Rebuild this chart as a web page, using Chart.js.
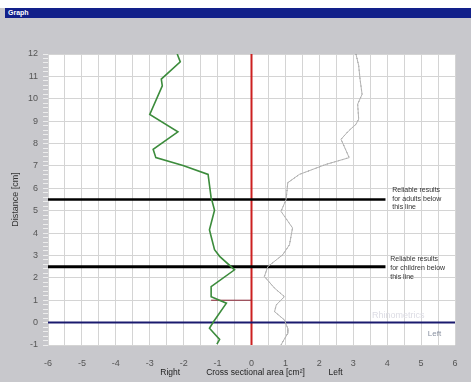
<!DOCTYPE html>
<html>
<head>
<meta charset="utf-8">
<script src="https://cdn.jsdelivr.net/npm/chart.js@4/dist/chart.umd.min.js"></script>
<style>
  html, body { margin: 0; padding: 0; background: #ffffff; }
  #win { position: absolute; left: 0; top: 0; width: 471px; height: 382px; overflow: hidden; }
  #frame { position: absolute; left: 0; top: 8px; width: 471px; height: 374px; background: #c8c8cc; }
  #bar { position: absolute; left: 5px; top: 8px; width: 466px; height: 10px; background: #12208a;
         color: #ffffff; font: bold 7px "Liberation Sans", Arial, sans-serif; line-height: 10px;
         padding-left: 3px; box-sizing: border-box; }
  canvas { position: absolute; left: 0; top: 0; }
</style>
</head>
<body>
<div id="win">
  <div id="frame"></div>
  <div id="bar">Graph</div>
  <canvas id="c" width="471" height="382"></canvas>
</div>
<script>
// Tick labels
const xTickLabels = [-6, -5, -4, -3, -2, -1, 0, 1, 2, 3, 4, 5, 6];
const yTickLabels = [-1, 0, 1, 2, 3, 4, 5, 6, 7, 8, 9, 10, 11, 12];

// Right side (drawn to negative area), cross sectional area [cm²] vs distance [cm]
const rightArea     = [-2.19, -2.10, -2.66, -2.63, -3.00, -2.17, -2.90, -2.82, -2.02, -1.28, -1.19, -1.16, -1.09, -1.24, -1.19, -1.09, -0.94, -0.50, -1.19, -1.19, -0.74, -1.12, -1.24, -0.94, -1.02];
const rightDistance = [12.00, 11.65, 10.88, 10.58, 9.30, 8.52, 7.74, 7.37, 7.02, 6.62, 5.57, 5.42, 5.02, 4.15, 3.85, 3.26, 2.96, 2.36, 1.61, 1.16, 0.87, 0.04, -0.25, -0.75, -0.96];

// Left side
const leftArea     = [3.08, 3.16, 3.20, 3.26, 3.13, 3.16, 3.08, 2.86, 2.64, 2.88, 2.20, 1.41, 1.07, 1.02, 0.87, 1.21, 1.12, 0.92, 0.48, 0.38, 0.68, 0.97, 0.73, 0.68, 0.97, 1.07, 1.07, 0.92, 0.87];
const leftDistance = [12.00, 11.48, 10.88, 10.20, 9.76, 9.09, 8.86, 8.56, 8.19, 7.37, 7.07, 6.62, 6.25, 5.50, 4.97, 4.23, 3.48, 3.03, 2.50, 2.06, 1.54, 1.16, 0.79, 0.49, 0.12, -0.26, -0.48, -0.86, -1.00];

// Reference lines
const adultLimit = 5.5;
const childLimit = 2.5;
const noseEntry = 0;
const limitLineEnd = 3.95;
const markerDistance = 1.0;
const markerArea = -1.19;

const pts = (xs, ys) => xs.map((x, i) => ({ x: x, y: ys[i] }));
const isInt = v => Math.abs(v - Math.round(v)) < 1e-6;
const fontFamily = '"Liberation Sans", Arial, sans-serif';

const plotBg = {
  id: 'plotBg',
  beforeDraw(chart) {
    const { ctx, chartArea: a } = chart;
    ctx.save();
    ctx.fillStyle = '#ffffff';
    ctx.fillRect(a.left, a.top, a.right - a.left, a.bottom - a.top);
    ctx.restore();
  }
};

const notes = {
  id: 'notes',
  afterDatasetsDraw(chart) {
    const { ctx, scales: { x, y } } = chart;
    ctx.save();
    ctx.textBaseline = 'middle';
    ctx.textAlign = 'left';
    ctx.fillStyle = '#333333';
    ctx.font = '7px ' + fontFamily;
    const xl = x.getPixelForValue(4.15);
    const ya = y.getPixelForValue(adultLimit);
    ['Reliable results', 'for adults below', 'this line'].forEach((t, i) => ctx.fillText(t, xl, ya - 9 + i * 8.5));
    const yc = y.getPixelForValue(childLimit);
    ['Reliable results', 'for children below', 'this line'].forEach((t, i) => ctx.fillText(t, xl - 2, yc - 8 + i * 9));
    ctx.fillStyle = '#dcdce4';
    ctx.font = '9px ' + fontFamily;
    ctx.fillText('Rhinometrics', x.getPixelForValue(3.55), y.getPixelForValue(0.3));
    ctx.fillStyle = '#8890a0';
    ctx.font = '8px ' + fontFamily;
    ctx.fillText('Left', x.getPixelForValue(5.2), y.getPixelForValue(-0.5));
    ctx.restore();
  }
};

new Chart(document.getElementById('c'), {
  type: 'scatter',
  data: {
    datasets: [
      { data: pts(rightArea, rightDistance), borderColor: '#3c8c3c', borderWidth: 1.6 },
      { data: pts(leftArea, leftDistance), borderColor: '#b4b4b4', borderWidth: 1 },
      { data: pts(leftArea, leftDistance), borderColor: '#707070', borderWidth: 1, borderDash: [1, 3] },
      { data: [{ x: markerArea, y: markerDistance }, { x: 0, y: markerDistance }], borderColor: '#8a2232', borderWidth: 1 },
      { data: [{ x: -6, y: adultLimit }, { x: limitLineEnd, y: adultLimit }], borderColor: '#000000', borderWidth: 2.5 },
      { data: [{ x: -6, y: childLimit }, { x: limitLineEnd, y: childLimit }], borderColor: '#000000', borderWidth: 3 },
      { data: [{ x: -6, y: noseEntry }, { x: 6, y: noseEntry }], borderColor: '#1a1a6e', borderWidth: 2 },
      { data: [{ x: 0, y: -1 }, { x: 0, y: 12 }], borderColor: '#cc2020', borderWidth: 2 }
    ].map(d => Object.assign({ showLine: true, pointRadius: 0, fill: false, tension: 0 }, d))
  },
  options: {
    responsive: false,
    devicePixelRatio: 1,
    animation: false,
    layout: { padding: { left: 0, right: 16, top: 54, bottom: 0 } },
    plugins: { legend: { display: false }, tooltip: { enabled: false } },
    scales: {
      x: {
        type: 'linear',
        min: -6, max: 6,
        afterBuildTicks(s) {
          const t = [];
          for (let i = 0; i < xTickLabels.length; i++) {
            t.push({ value: xTickLabels[i] });
            if (i < xTickLabels.length - 1) t.push({ value: xTickLabels[i] + 0.5 });
          }
          s.ticks = t;
        },
        afterFit(s) { s.height = 37; },
        border: { display: false },
        grid: { color: '#d4d4d4', drawTicks: false, lineWidth: 1 },
        ticks: {
          autoSkip: false, maxRotation: 0, padding: 13,
          color: '#555555', font: { family: fontFamily, size: 9 },
          callback: v => isInt(v) ? String(Math.round(v)) : ''
        },
        title: {
          display: true,
          text: 'Right           Cross sectional area [cm²]          Left',
          color: '#222222', font: { family: fontFamily, size: 8.5 },
          padding: { top: 0, bottom: 4 }
        }
      },
      y: {
        type: 'linear',
        min: -1, max: 12,
        afterBuildTicks(s) {
          const t = [];
          for (let i = 0; i < yTickLabels.length; i++) {
            t.push({ value: yTickLabels[i] });
            if (i < yTickLabels.length - 1) {
              for (let k = 1; k < 5; k++) t.push({ value: Math.round((yTickLabels[i] + k * 0.2) * 10) / 10 });
            }
          }
          s.ticks = t;
        },
        afterFit(s) { s.width = 48; },
        border: { display: false },
        grid: {
          color: c => (c.tick && isInt(c.tick.value)) ? '#d4d4d4' : 'rgba(0,0,0,0)',
          tickColor: '#ededed', tickLength: 5, lineWidth: 1
        },
        ticks: {
          autoSkip: false, padding: 5,
          color: '#555555', font: { family: fontFamily, size: 9 },
          callback: v => isInt(v) ? String(Math.round(v)) : ''
        },
        title: {
          display: true,
          text: 'Distance [cm]',
          color: '#333333', font: { family: fontFamily, size: 9 },
          padding: { top: 10, bottom: 0 }
        }
      }
    }
  },
  plugins: [plotBg, notes]
});
</script>
</body>
</html>
